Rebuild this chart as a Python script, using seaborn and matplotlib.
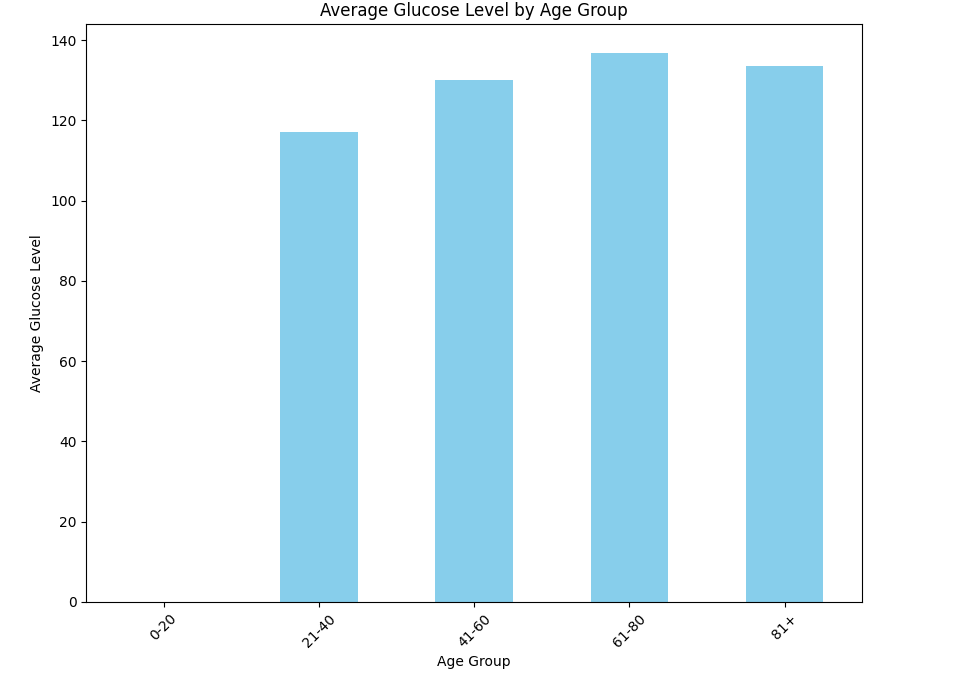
import matplotlib
matplotlib.use("Agg")
import numpy as np
import pandas as pd
import seaborn as sns
import matplotlib.pyplot as plt

age_groups = ["0-20", "21-40", "41-60", "61-80", "81+"]
avg_glucose = [np.nan, 117.2, 130.0, 136.8, 133.7]

data = pd.DataFrame({"age_group": age_groups, "glucose": avg_glucose})

fig = plt.figure(figsize=(9.57, 6.91), dpi=100)
ax = fig.add_axes([0.09, 0.129, 0.811, 0.836])
sns.barplot(data=data, x="age_group", y="glucose", color="skyblue",
            saturation=1, width=0.5, ax=ax)
ax.set_title("Average Glucose Level by Age Group")
ax.set_xlabel("Age Group")
ax.set_ylabel("Average Glucose Level")
ax.set_ylim(0, 144)
plt.setp(ax.get_xticklabels(), rotation=45)
fig.savefig("out.png", dpi=100)
